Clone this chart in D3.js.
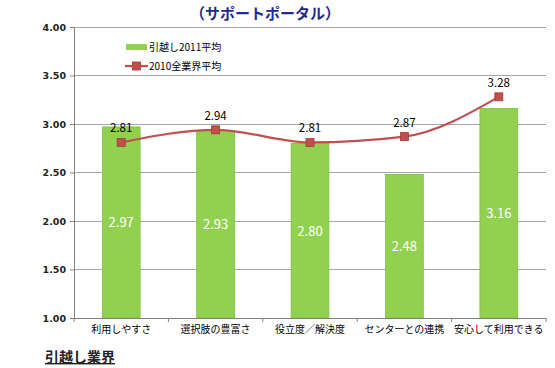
<!DOCTYPE html>
<html><head><meta charset="utf-8">
<script src="https://cdn.jsdelivr.net/npm/d3@7"></script>
<style>body{margin:0;background:#fff}svg{display:block}text{font-family:"Noto Sans CJK JP","Noto Sans",sans-serif}</style>
</head><body><svg id="c" width="555" height="368"></svg>
<script>
const categories = ["利用しやすさ","選択肢の豊富さ","役立度／解決度","センターとの連携","安心して利用できる"];
const barValues = [2.97, 2.93, 2.80, 2.48, 3.16];
const lineValues = [2.81, 2.94, 2.81, 2.87, 3.28];
const yTicks = [1.00, 1.50, 2.00, 2.50, 3.00, 3.50, 4.00];
const barName = "引越し2011平均";
const lineName = "2010全業界平均";
const title = "（サポートポータル）";
const footer = "引越し業界";

const svg = d3.select("#c");
const L = 74, R = 546, T = 27, B = 318;
const x = d3.scaleBand().domain(categories).range([L, R]).padding(0);
const y = d3.scaleLinear().domain([1, 4]).range([B, T]);
const bw = x.bandwidth() * 0.4;
const cx = d => x(d) + x.bandwidth() / 2;

// title
svg.append("text").attr("x", 265).attr("y", 19).attr("text-anchor", "middle")
  .attr("font-size", 15).attr("font-weight", "bold").attr("fill", "#1F2A8C").text(title);

// grid
svg.append("g").selectAll("line").data(yTicks).join("line")
  .attr("x1", L).attr("x2", R).attr("y1", d => y(d)).attr("y2", d => y(d))
  .attr("stroke", "#A6A6A6").attr("stroke-width", 1).attr("shape-rendering", "crispEdges");

// y axis
const ya = svg.append("g").attr("transform", `translate(${L},0)`)
  .call(d3.axisLeft(y).tickValues(yTicks).tickFormat(d3.format(".2f")).tickSize(4));
ya.select(".domain").attr("stroke", "#808080");
ya.selectAll(".tick line").attr("stroke", "#808080");
ya.selectAll("text").attr("font-size", 9.5).attr("font-weight", "bold").attr("fill", "#222")
  .style("font-family", "DejaVu Sans").attr("x", -8);

// bars
svg.append("g").selectAll("rect").data(categories).join("rect")
  .attr("x", d => cx(d) - bw / 2).attr("width", bw)
  .attr("y", (d, i) => y(barValues[i])).attr("height", (d, i) => B - y(barValues[i]))
  .attr("fill", "#92D050").attr("stroke", "#7CC13A").attr("stroke-width", 0.8);

svg.append("g").selectAll("text").data(categories).join("text")
  .attr("x", d => cx(d)).attr("y", (d, i) => (y(barValues[i]) + B) / 2 + 5)
  .attr("text-anchor", "middle").attr("font-size", 13).attr("fill", "#fff")
  .text((d, i) => barValues[i].toFixed(2));

// x axis
const xa = svg.append("g").attr("transform", `translate(0,${B})`)
  .call(d3.axisBottom(x).tickSize(0).tickPadding(8));
xa.select(".domain").attr("stroke", "#808080");
xa.selectAll("text").attr("font-size", 10).attr("fill", "#000");
svg.append("g").selectAll("line").data(d3.range(categories.length + 1)).join("line")
  .attr("x1", i => L + i * x.step()).attr("x2", i => L + i * x.step())
  .attr("y1", B).attr("y2", B + 4).attr("stroke", "#808080");

// line
const pts = categories.map((d, i) => [cx(d), y(lineValues[i])]);
svg.append("path").attr("d", d3.line().curve(d3.curveMonotoneX)(pts))
  .attr("fill", "none").attr("stroke", "#C0504D").attr("stroke-width", 2.2);
svg.append("g").selectAll("rect").data(pts).join("rect")
  .attr("x", p => p[0] - 4).attr("y", p => p[1] - 4).attr("width", 8).attr("height", 8)
  .attr("fill", "#C0504D").attr("stroke", "#A33B38").attr("stroke-width", 0.8);
svg.append("g").selectAll("text").data(pts).join("text")
  .attr("x", p => p[0]).attr("y", p => p[1] - 10)
  .attr("text-anchor", "middle").attr("font-size", 11.5).attr("fill", "#000")
  .text((d, i) => lineValues[i].toFixed(2));

// legend
const lg = svg.append("g");
lg.append("rect").attr("x", 126).attr("y", 44).attr("width", 21).attr("height", 6).attr("fill", "#92D050");
lg.append("text").attr("x", 149).attr("y", 51).attr("font-size", 10).attr("fill", "#000").text(barName);
lg.append("line").attr("x1", 125).attr("x2", 148).attr("y1", 66).attr("y2", 66).attr("stroke", "#C0504D").attr("stroke-width", 2.2);
lg.append("rect").attr("x", 132.5).attr("y", 62).attr("width", 8).attr("height", 8).attr("fill", "#C0504D").attr("stroke", "#A33B38").attr("stroke-width", 0.8);
lg.append("text").attr("x", 149).attr("y", 70).attr("font-size", 10).attr("fill", "#000").text(lineName);

// footer
svg.append("text").attr("x", 45).attr("y", 362).attr("font-size", 14).attr("font-weight", "bold")
  .attr("fill", "#222").attr("text-decoration", "underline").text(footer);
</script></body></html>
